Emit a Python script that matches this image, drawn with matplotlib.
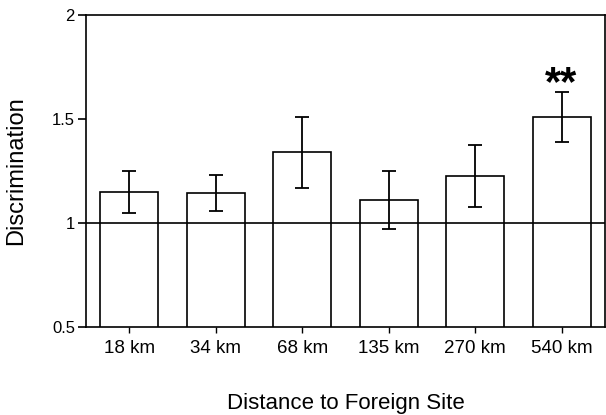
import matplotlib
matplotlib.use("Agg")
import matplotlib.pyplot as plt

categories = ["18 km", "34 km", "68 km", "135 km", "270 km", "540 km"]
values = [1.15, 1.145, 1.34, 1.11, 1.225, 1.51]
errors = [0.10, 0.085, 0.17, 0.14, 0.15, 0.12]
yticks = [0.5, 1, 1.5, 2]
ytick_labels = ["0.5", "1", "1.5", "2"]
sig_label = "**"
sig_index = 5

plt.rcParams['font.family'] = ['Liberation Sans', 'DejaVu Sans']

fig = plt.figure(figsize=(6.06, 4.15), dpi=100)
ax = fig.add_axes([0.142, 0.212, 0.856, 0.752])

x = list(range(len(categories)))
ax.bar(x, values, width=0.67, bottom=0, color='white', edgecolor='black',
       linewidth=1.2, zorder=2)
ax.errorbar(x, values, yerr=errors, fmt='none', ecolor='black', elinewidth=1.3,
            capsize=5, capthick=1.3, zorder=3)
ax.axhline(1.0, color='black', linewidth=1.2, zorder=4)

ax.text(x[sig_index], values[sig_index] + errors[sig_index] - 0.06, sig_label,
        ha='center', va='bottom', fontsize=30, fontweight='bold')

ax.set_xlim(-0.5, len(categories) - 0.5)
ax.set_ylim(0.5, 2)
ax.set_yticks(yticks)
ax.set_yticklabels(ytick_labels, fontsize=12)
ax.set_xticks(x)
ax.set_xticklabels(categories, fontsize=13.5)
ax.tick_params(axis='y', direction='out', length=6, width=1.2, pad=2)
ax.tick_params(axis='x', direction='out', length=4, width=1.0, pad=5)
for s in ax.spines.values():
    s.set_linewidth(1.2)

ax.set_ylabel("Discrimination", fontsize=17, labelpad=18)
ax.set_xlabel("Distance to Foreign Site", fontsize=16, labelpad=26)

fig.savefig("out.png", dpi=100)
